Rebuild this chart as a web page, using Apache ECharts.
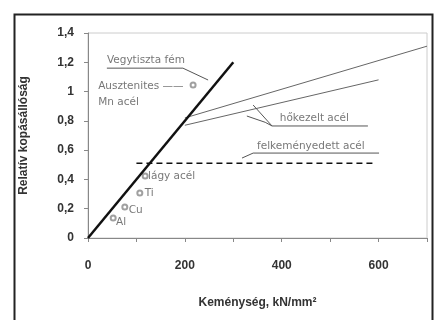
<!DOCTYPE html>
<html>
<head>
<meta charset="utf-8">
<script src="https://cdn.jsdelivr.net/npm/echarts@6/dist/echarts.min.js"></script>
<style>
html,body{margin:0;padding:0;background:#fff;}
#chart{width:434px;height:320px;}
</style>
</head>
<body>
<div id="chart"></div>
<script>
// Wear resistance vs. hardness (Khrushchov-type diagram)
const xTicks = [0, 100, 200, 300, 400, 500, 600, 700];
const xLabelled = [0, 200, 400, 600];
const yTicks = ['0', '0,2', '0,4', '0,6', '0,8', '1', '1,2', '1,4'];

// pure metals and annealed steels: straight line through origin
const pureMetalLine = [[0, 0], [300, 1.2]];
// heat-treated steels
const heatTreatedUpper = [[200, 0.82], [700, 1.31]];
const heatTreatedLower = [[200, 0.77], [600, 1.08]];
// work-hardened steel
const workHardened = [[100, 0.51], [590, 0.51]];

// individual materials
const materialNames = ['Al', 'Cu', 'Ti', 'lágy acél', 'Ausztenites Mn acél'];
const materialHardness = [52, 76, 107, 118, 217];
const materialWear = [0.137, 0.212, 0.307, 0.423, 1.045];

// annotation texts: [x, y, text] (text left edge, vertical middle)
const notes = [
  [39, 1.215, 'Vegytiszta fém'],
  [21, 1.038, 'Ausztenites ——'],
  [21, 0.925, 'Mn acél'],
  [124, 0.42, 'lágy acél'],
  [117, 0.307, 'Ti'],
  [84, 0.19, 'Cu'],
  [58, 0.11, 'Al'],
  [396, 0.82, 'hőkezelt acél'],
  [349, 0.628, 'felkeményedett acél']
];
// leader lines (underline + pointer)
const leaders = [
  [[39, 1.16], [196, 1.16], [248, 1.079]],
  [[341, 0.908], [380, 0.765], [578, 0.765]],
  [[328, 0.833], [366, 0.79], [380, 0.765]],
  [[318, 0.546], [341, 0.58], [601, 0.58]]
];

const chart = echarts.init(document.getElementById('chart'), null, {renderer: 'canvas'});
const font = 'Liberation Sans, Arial, sans-serif';
const noteFont = 'DejaVu Sans, sans-serif';

const series = [
  {
    type: 'line', data: pureMetalLine, symbol: 'none', silent: true,
    lineStyle: {color: '#111', width: 2.5}, z: 5
  },
  {
    type: 'line', data: heatTreatedUpper, symbol: 'none', silent: true,
    lineStyle: {color: '#666', width: 1}
  },
  {
    type: 'line', data: heatTreatedLower, symbol: 'none', silent: true,
    lineStyle: {color: '#666', width: 1}
  },
  {
    type: 'line', data: workHardened, symbol: 'none', silent: true,
    lineStyle: {color: '#111', width: 1.5, type: [6, 4]}
  },
  {
    type: 'scatter', symbol: 'emptyCircle', symbolSize: 5,
    itemStyle: {color: '#888', borderColor: '#888', borderWidth: 1},
    data: materialHardness.map((h, i) => ({name: materialNames[i], value: [h, materialWear[i]]}))
  },
  {
    type: 'scatter', symbolSize: 0, silent: true,
    data: notes.map(n => ({value: [n[0], n[1]], name: n[2]})),
    label: {
      show: true, position: 'right', distance: 0,
      formatter: p => p.name,
      color: '#555', fontSize: 10.5, fontFamily: noteFont
    }
  }
];
leaders.forEach(pts => series.push({
  type: 'line', data: pts, symbol: 'none', silent: true,
  lineStyle: {color: '#555', width: 1}
}));

chart.setOption({
  backgroundColor: '#fff',
  animation: false,
  grid: {left: 88, top: 33, right: 7, bottom: 82, show: true, borderColor: '#ccc', borderWidth: 1},
  xAxis: {
    type: 'value', min: xTicks[0], max: xTicks[xTicks.length - 1], interval: 100,
    name: 'Keménység, kN/mm²', nameLocation: 'middle', nameGap: 59,
    nameTextStyle: {fontFamily: font, fontSize: 12, fontWeight: 'bold', color: '#333'},
    axisLine: {lineStyle: {color: '#888'}},
    axisTick: {show: true, length: 4, lineStyle: {color: '#888'}},
    splitLine: {show: false},
    axisLabel: {
      margin: 22, fontFamily: font, fontSize: 12, fontWeight: 'bold', color: '#333',
      formatter: v => xLabelled.includes(v) ? String(v) : ''
    }
  },
  yAxis: {
    type: 'value', min: 0, max: 1.4, interval: 0.2,
    name: 'Relatív kopásállóság', nameLocation: 'middle', nameGap: 58,
    nameTextStyle: {fontFamily: font, fontSize: 12, fontWeight: 'bold', color: '#333'},
    axisLine: {show: true, lineStyle: {color: '#888'}},
    axisTick: {show: true, length: 4, lineStyle: {color: '#888'}},
    splitLine: {show: false},
    axisLabel: {
      margin: 14, fontFamily: font, fontSize: 12, fontWeight: 'bold', color: '#333',
      formatter: v => yTicks[Math.round(v / 0.2)]
    }
  },
  graphic: [{
    type: 'rect', left: 12, top: 12, silent: true,
    shape: {width: 418, height: 320},
    style: {fill: 'none', stroke: '#222', lineWidth: 2}
  }],
  series: series
});
</script>
</body>
</html>
